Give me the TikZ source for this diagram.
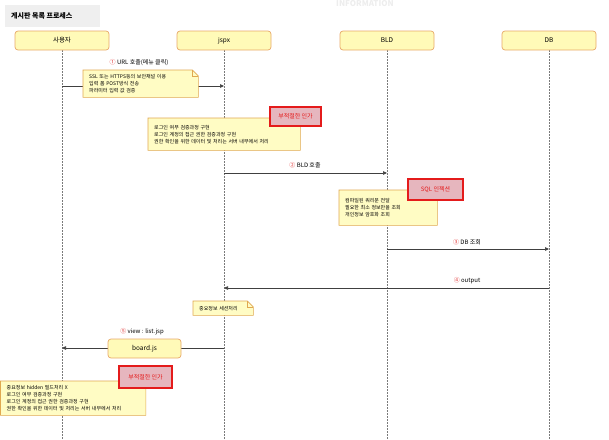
\documentclass[tikz,border=0pt]{standalone}
\usepackage{fontspec}
\setmainfont{Noto Sans CJK KR}
\usetikzlibrary{arrows.meta}
\pgfdeclarelayer{back}\pgfdeclarelayer{mid}
\pgfsetlayers{back,mid,main}
\definecolor{hdrfill}{HTML}{FFFAB8}
\definecolor{hdrbrd}{HTML}{E8A868}
\definecolor{notefill}{HTML}{FFFCC4}
\definecolor{notebrd}{HTML}{E0A850}
\definecolor{redfill}{HTML}{E6B6BE}
\definecolor{redbrd}{HTML}{E41B1B}
\definecolor{lifegray}{HTML}{7A7A7A}
\definecolor{arrgray}{HTML}{404040}
\definecolor{titlefill}{HTML}{EFEFEF}
\definecolor{numred}{HTML}{E03030}
\newcommand\foldnote[1]{%
 \begin{pgfonlayer}{mid}
 \draw[notebrd, fill=notefill, line width=0.6pt] (#1.north west) -- ([xshift=-6pt]#1.north east) -- ([yshift=-6pt]#1.north east) -- (#1.south east) -- (#1.south west) -- cycle;
 \draw[notebrd, line width=0.6pt] ([xshift=-6pt]#1.north east) -- ([xshift=-6pt,yshift=-6pt]#1.north east) -- ([yshift=-6pt]#1.north east);
 \end{pgfonlayer}}
\begin{document}
\begin{tikzpicture}[x=1pt,y=-1pt,
  hdr/.style={draw=hdrbrd, fill=hdrfill, rounded corners=3pt, line width=0.7pt, minimum width=94pt, minimum height=19pt, inner sep=0pt, font=\fontsize{6.5}{7}\selectfont},
  note/.style={anchor=north west, inner xsep=6pt, inner ysep=0pt, align=left, font=\fontsize{5}{7}\selectfont},
  redbox/.style={draw=redbrd, fill=redfill, line width=1.4pt, text=redbrd, inner sep=0pt, font=\fontsize{6}{7}\selectfont},
  life/.style={lifegray, line width=0.5pt, dash pattern=on 1.5pt off 1.5pt},
  msg/.style={arrgray, line width=0.7pt, -{Triangle[length=4pt,width=3.5pt]}},
  lbl/.style={font=\fontsize{6}{7}\selectfont, inner sep=0pt}]
\useasboundingbox (0,0) rectangle (609,439);
% watermark
\node[text=black!7, font=\fontsize{8}{8}\selectfont\bfseries, anchor=north, inner sep=0pt] (wm) at (365,0.5) {INFORMATION};
% title
\node[fill=titlefill, minimum width=95pt, minimum height=22pt, anchor=north west, inner sep=0pt] (title) at (5,5) {};
\node[anchor=west, font=\fontsize{7}{8}\selectfont\bfseries, inner sep=0pt] (titletext) at (11,16) {게시판 목록 프로세스};
% lifeline headers
\node[hdr] (user) at (62,40.5) {사용자};
\node[hdr] (jspx) at (224,40.5) {jspx};
\node[hdr] (bld) at (387,40.5) {BLD};
\node[hdr] (db) at (549,40.5) {DB};
\coordinate (userend) at (62,439);
\coordinate (jspxend) at (224,439);
\coordinate (bldend) at (387,439);
\coordinate (dbend) at (549,439);
\begin{pgfonlayer}{back}
\draw[life] (user.south) -- (userend);
\draw[life] (jspx.south) -- (jspxend);
\draw[life] (bld.south) -- (bldend);
\draw[life] (db.south) -- (dbend);
\end{pgfonlayer}
% message points
\coordinate (u1) at (62,86);  \coordinate (j1) at (224,86);
\coordinate (j2) at (224,173); \coordinate (b2) at (387,173);
\coordinate (b3) at (387,249); \coordinate (d3) at (549,249);
\coordinate (d4) at (549,288); \coordinate (j4) at (224,288);
\coordinate (j5) at (224,348); \coordinate (u5) at (62,348);
\begin{pgfonlayer}{back}
\draw[msg] (u1) -- (j1);
\draw[msg] (j2) -- (b2);
\draw[msg] (b3) -- (d3);
\draw[msg] (d4) -- (j4);
\draw[msg] (j5) -- (u5);
\end{pgfonlayer}
% labels
\node[lbl] (l1) at (139,63) {\textcolor{numred}{①} URL 호출(메뉴 클릭)};
\node[lbl] (l2) at (305,165) {\textcolor{numred}{②} BLD 호출};
\node[lbl] (l3) at (467,242) {\textcolor{numred}{③} DB 조회};
\node[lbl] (l4) at (467,281) {\textcolor{numred}{④} output};
\node[lbl] (l5) at (142,332) {\textcolor{numred}{⑤} view : list.jsp};
% notes
\node[note, text width=103pt, minimum height=27pt] (n1) at (83,70) {SSL 또는 HTTPS등의 보안채널 이용\\입력 폼 POST방식 전송\\파라미터 입력 값 검증};
\foldnote{n1}
\node[note, text width=140pt, minimum height=32pt] (n2) at (148,118) {로그인 여부 검증과정 구현\\로그인 계정의 접근 권한 검증과정 구현\\권한 확인을 위한 데이터 및 처리는 서버 내부에서 처리};
\foldnote{n2}
\node[note, text width=86pt, minimum height=35pt] (n3) at (339,190) {컴파일된 쿼리문 전달\\필요한 최소 정보만을 조회\\개인정보 암호화 조회};
\foldnote{n3}
\node[note, text width=48pt, minimum height=14pt] (n4) at (193,301) {중요정보 세션처리};
\foldnote{n4}
\node[note, text width=133pt, minimum height=34pt] (n5) at (0.5,381) {중요정보 hidden 필드처리 X\\로그인 여부 검증과정 구현\\로그인 계정의 접근 권한 검증과정 구현\\권한 확인을 위한 데이터 및 처리는 서버 내부에서 처리};
\foldnote{n5}
% board.js
\node[hdr, minimum width=73pt] (board) at (144.5,348.5) {board.js};
% red boxes
\node[redbox, minimum width=51pt, minimum height=19pt] (r1) at (295.5,116.5) {부적절한 인가};
\node[redbox, minimum width=55pt, minimum height=21pt] (r2) at (435.5,189.5) {SQL 인젝션};
\node[redbox, minimum width=53pt, minimum height=22pt] (r3) at (145.5,377) {부적절한 인가};
\end{tikzpicture}
\end{document}
